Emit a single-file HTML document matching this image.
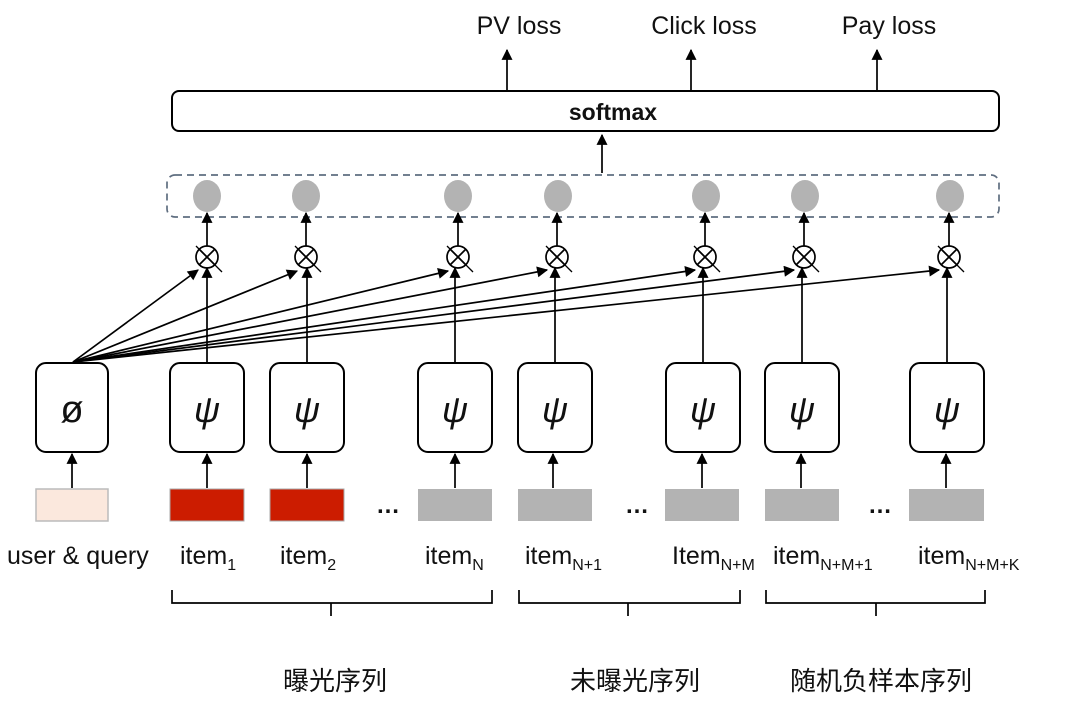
<!DOCTYPE html>
<html><head><meta charset="utf-8"><style>
html,body{margin:0;padding:0;background:#fff;}
svg{display:block;}
text{font-family:"Liberation Sans","Noto Sans CJK SC",sans-serif;fill:#111;}
</style></head><body>
<svg width="1080" height="727" viewBox="0 0 1080 727" xmlns="http://www.w3.org/2000/svg">
<defs>
<marker id="a" viewBox="0 0 10 10" refX="9" refY="5" markerWidth="12" markerHeight="11" orient="auto-start-reverse" markerUnits="userSpaceOnUse">
<path d="M0,0 L10,5 L0,10 z" fill="#000"/></marker>
</defs>
<text x="519" y="34" font-size="25" text-anchor="middle">PV loss</text>
<text x="704" y="34" font-size="25" text-anchor="middle">Click loss</text>
<text x="889" y="34" font-size="25" text-anchor="middle">Pay loss</text>
<g stroke="#000" stroke-width="1.7" fill="none">
<line x1="507" y1="91" x2="507" y2="50" marker-end="url(#a)"/>
<line x1="691" y1="91" x2="691" y2="50" marker-end="url(#a)"/>
<line x1="877" y1="91" x2="877" y2="50" marker-end="url(#a)"/>
<rect x="172" y="91" width="827" height="40" rx="7" stroke-width="2"/>
<line x1="602" y1="173" x2="602" y2="135" marker-end="url(#a)"/>
</g>
<text x="613" y="120" font-size="23" font-weight="bold" text-anchor="middle">softmax</text>
<rect x="167" y="175" width="832" height="42" rx="8" fill="none" stroke="#5f6e80" stroke-width="1.7" stroke-dasharray="7,5"/>
<g fill="#b3b3b3">
<ellipse cx="207" cy="196" rx="14" ry="16"/><ellipse cx="306" cy="196" rx="14" ry="16"/>
<ellipse cx="458" cy="196" rx="14" ry="16"/><ellipse cx="558" cy="196" rx="14" ry="16"/>
<ellipse cx="706" cy="196" rx="14" ry="16"/><ellipse cx="805" cy="196" rx="14" ry="16"/>
<ellipse cx="950" cy="196" rx="14" ry="16"/>
</g>
<g stroke="#000" stroke-width="1.7" fill="none">
<g>
<circle cx="207" cy="257" r="11"/><line x1="199" y1="249" x2="215" y2="265"/><line x1="215" y1="249" x2="199" y2="265"/>
<circle cx="306" cy="257" r="11"/><line x1="298" y1="249" x2="314" y2="265"/><line x1="314" y1="249" x2="298" y2="265"/>
<circle cx="458" cy="257" r="11"/><line x1="450" y1="249" x2="466" y2="265"/><line x1="466" y1="249" x2="450" y2="265"/>
<circle cx="557" cy="257" r="11"/><line x1="549" y1="249" x2="565" y2="265"/><line x1="565" y1="249" x2="549" y2="265"/>
<circle cx="705" cy="257" r="11"/><line x1="697" y1="249" x2="713" y2="265"/><line x1="713" y1="249" x2="697" y2="265"/>
<circle cx="804" cy="257" r="11"/><line x1="796" y1="249" x2="812" y2="265"/><line x1="812" y1="249" x2="796" y2="265"/>
<circle cx="949" cy="257" r="11"/><line x1="941" y1="249" x2="957" y2="265"/><line x1="957" y1="249" x2="941" y2="265"/>
</g>
<g stroke-width="1.3">
<line x1="196" y1="246" x2="222" y2="272"/><line x1="295" y1="246" x2="321" y2="272"/>
<line x1="447" y1="246" x2="473" y2="272"/><line x1="546" y1="246" x2="572" y2="272"/>
<line x1="694" y1="246" x2="720" y2="272"/><line x1="793" y1="246" x2="819" y2="272"/>
<line x1="938" y1="246" x2="964" y2="272"/>
</g>
<line x1="207" y1="246" x2="207" y2="213" marker-end="url(#a)"/>
<line x1="306" y1="246" x2="306" y2="213" marker-end="url(#a)"/>
<line x1="458" y1="246" x2="458" y2="213" marker-end="url(#a)"/>
<line x1="557" y1="246" x2="557" y2="213" marker-end="url(#a)"/>
<line x1="705" y1="246" x2="705" y2="213" marker-end="url(#a)"/>
<line x1="804" y1="246" x2="804" y2="213" marker-end="url(#a)"/>
<line x1="949" y1="246" x2="949" y2="213" marker-end="url(#a)"/>
<line x1="207" y1="363" x2="207" y2="268" marker-end="url(#a)"/>
<line x1="307" y1="363" x2="307" y2="268" marker-end="url(#a)"/>
<line x1="455" y1="363" x2="455" y2="268" marker-end="url(#a)"/>
<line x1="555" y1="363" x2="555" y2="268" marker-end="url(#a)"/>
<line x1="703" y1="363" x2="703" y2="268" marker-end="url(#a)"/>
<line x1="802" y1="363" x2="802" y2="268" marker-end="url(#a)"/>
<line x1="947" y1="363" x2="947" y2="268" marker-end="url(#a)"/>
<line x1="73" y1="362" x2="198" y2="270" marker-end="url(#a)"/>
<line x1="73" y1="362" x2="297" y2="271" marker-end="url(#a)"/>
<line x1="73" y1="362" x2="448" y2="271" marker-end="url(#a)"/>
<line x1="73" y1="362" x2="547" y2="270" marker-end="url(#a)"/>
<line x1="73" y1="362" x2="695" y2="270" marker-end="url(#a)"/>
<line x1="73" y1="362" x2="794" y2="270" marker-end="url(#a)"/>
<line x1="73" y1="362" x2="939" y2="270" marker-end="url(#a)"/>
<g stroke-width="2">
<rect x="36" y="363" width="72" height="89" rx="10"/>
<rect x="170" y="363" width="74" height="89" rx="10"/>
<rect x="270" y="363" width="74" height="89" rx="10"/>
<rect x="418" y="363" width="74" height="89" rx="10"/>
<rect x="518" y="363" width="74" height="89" rx="10"/>
<rect x="666" y="363" width="74" height="89" rx="10"/>
<rect x="765" y="363" width="74" height="89" rx="10"/>
<rect x="910" y="363" width="74" height="89" rx="10"/>
</g>
<line x1="72" y1="488" x2="72" y2="454" marker-end="url(#a)"/>
<line x1="207" y1="488" x2="207" y2="454" marker-end="url(#a)"/>
<line x1="307" y1="488" x2="307" y2="454" marker-end="url(#a)"/>
<line x1="455" y1="488" x2="455" y2="454" marker-end="url(#a)"/>
<line x1="553" y1="488" x2="553" y2="454" marker-end="url(#a)"/>
<line x1="702" y1="488" x2="702" y2="454" marker-end="url(#a)"/>
<line x1="801" y1="488" x2="801" y2="454" marker-end="url(#a)"/>
<line x1="946" y1="488" x2="946" y2="454" marker-end="url(#a)"/>
<path d="M172,590 V603 H492 V590 M331,603 V616"/>
<path d="M519,590 V603 H740 V590 M628,603 V616"/>
<path d="M766,590 V603 H985 V590 M876,603 V616"/>
</g>
<text x="72" y="422" font-size="38" text-anchor="middle" font-family="'DejaVu Sans',sans-serif">ø</text>
<g font-size="36" text-anchor="middle" font-family="'DejaVu Serif',serif" font-style="italic">
<text x="207" y="422">ψ</text><text x="307" y="422">ψ</text><text x="455" y="422">ψ</text>
<text x="555" y="422">ψ</text><text x="703" y="422">ψ</text><text x="802" y="422">ψ</text><text x="947" y="422">ψ</text>
</g>
<rect x="36" y="489" width="72" height="32" fill="#fbe8dd" stroke="#bbb" stroke-width="1.5"/>
<rect x="170" y="489" width="74" height="32" fill="#cc1c00" stroke="#aaa" stroke-width="1"/>
<rect x="270" y="489" width="74" height="32" fill="#cc1c00" stroke="#aaa" stroke-width="1"/>
<g fill="#b3b3b3">
<rect x="418" y="489" width="74" height="32"/><rect x="518" y="489" width="74" height="32"/>
<rect x="665" y="489" width="74" height="32"/><rect x="765" y="489" width="74" height="32"/>
<rect x="909" y="489" width="75" height="32"/>
</g>
<g font-size="24" font-weight="bold" text-anchor="middle">
<text x="388" y="513">…</text><text x="637" y="513">…</text><text x="880" y="513">…</text>
</g>
<g font-size="25">
<text x="7" y="564">user &amp; query</text>
<text x="180" y="564">item<tspan font-size="16" dy="6">1</tspan></text>
<text x="280" y="564">item<tspan font-size="16" dy="6">2</tspan></text>
<text x="425" y="564">item<tspan font-size="16" dy="6">N</tspan></text>
<text x="525" y="564">item<tspan font-size="16" dy="6">N+1</tspan></text>
<text x="672" y="564">Item<tspan font-size="16" dy="6">N+M</tspan></text>
<text x="773" y="564">item<tspan font-size="16" dy="6">N+M+1</tspan></text>
<text x="918" y="564">item<tspan font-size="16" dy="6">N+M+K</tspan></text>
</g>
<g font-size="26">
<text x="283" y="690">曝光序列</text>
<text x="570" y="690">未曝光序列</text>
<text x="790" y="690">随机负样本序列</text>
</g>
</svg>
</body></html>
